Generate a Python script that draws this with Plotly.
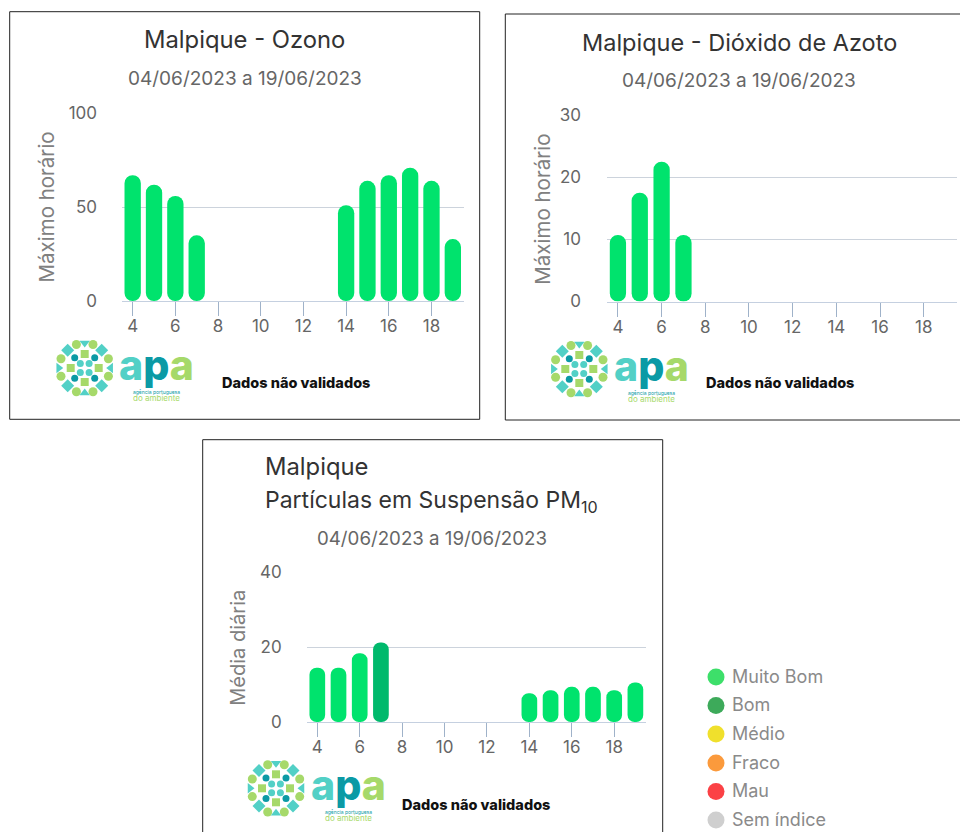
import plotly.graph_objects as go

W, H = 960, 832
FONT = "Inter"

# ---- data ----
ozone_days = [4, 5, 6, 7, 14, 15, 16, 17, 18, 19]
ozone_values = [67, 62, 56, 35, 51, 64, 67, 71, 64, 33]
no2_days = [4, 5, 6, 7]
no2_values = [10.7, 17.5, 22.5, 10.7]
pm10_days = [4, 5, 6, 7, 14, 15, 16, 17, 18, 19]
pm10_values = [14.5, 14.5, 18.4, 21.3, 7.7, 8.5, 9.4, 9.4, 8.5, 10.6]
x_ticks = [4, 6, 8, 10, 12, 14, 16, 18]
period = "04/06/2023 a 19/06/2023"
legend_labels = ["Muito Bom", "Bom", "Médio", "Fraco", "Mau", "Sem índice"]
legend_colors = ["#3ddf6a", "#3daa5a", "#f0e02c", "#fb9a3c", "#fb4145", "#cfcfcf"]

BRIGHT, DARK = "#00e36d", "#00b96c"
ozone_colors = [BRIGHT] * len(ozone_values)
no2_colors = [BRIGHT] * len(no2_values)
pm10_colors = [BRIGHT, BRIGHT, BRIGHT, DARK] + [BRIGHT] * 6
TICK = "#9fb2c9"

panels = [
    dict(days=ozone_days, values=ozone_values, colors=ozone_colors, ymax=100, dtick=50,
         l=122, r=463.5, t=113.3, b=301, width=0.765, ytitle="Máximo horário", ytx=46, yty=207.5, lab=98, ysz=20.5),
    dict(days=no2_days, values=no2_values, colors=no2_colors, ymax=30, dtick=10,
         l=607, r=956.5, t=115, b=301.5, width=0.745, ytitle="Máximo horário", ytx=541.7, yty=209, lab=582, ysz=20.5),
    dict(days=pm10_days, values=pm10_values, colors=pm10_colors, ymax=40, dtick=20,
         l=306.7, r=646, t=572.5, b=722, width=0.74, ytitle="Média diária", ytx=237.7, yty=648, lab=282, ysz=20),
]

fig = go.Figure()
annotations, shapes = [], []


def note(x, y, text, size, color, xanchor="center", weight=400, angle=0):
    annotations.append(dict(x=x / W, y=1 - y / H, xref="paper", yref="paper", text=text, showarrow=False,
                            xanchor=xanchor, yanchor="middle", textangle=angle,
                            font=dict(family=FONT, size=size, color=color, weight=weight)))


for i, p in enumerate(panels, start=1):
    sx = "" if i == 1 else str(i)
    # an explicit base makes Plotly round both ends of the bar
    fig.add_trace(go.Bar(x=p["days"], y=p["values"], base=[0] * len(p["values"]),
                         width=p["width"], marker=dict(color=p["colors"], cornerradius="50%", line_width=0),
                         xaxis="x" + sx, yaxis="y" + sx, showlegend=False, hoverinfo="skip"))
    fig.update_layout(**{
        "xaxis" + sx: dict(domain=[p["l"] / W, p["r"] / W], range=[3.5, 19.5], anchor="y" + sx, automargin=False,
                           tickmode="array", tickvals=x_ticks, ticks="outside", ticklen=14, tickcolor=TICK,
                           tickwidth=1, showline=True, linecolor="#c5d0e0", linewidth=1, showgrid=False,
                           zeroline=False, ticklabelstandoff=-4,
                           tickfont=dict(family=FONT, size=17, color="#666666")),
        "yaxis" + sx: dict(domain=[1 - p["b"] / H, 1 - p["t"] / H], range=[0, p["ymax"]], anchor="x" + sx,
                           automargin=False, dtick=p["dtick"], tick0=0, showgrid=True, gridcolor="#ccd3dc",
                           gridwidth=1, zeroline=False, showline=False, ticks="",
                           ticklabelstandoff=int(p["l"] - p["lab"]),
                           tickfont=dict(family=FONT, size=17, color="#666666")),
    })
    note(p["ytx"], p["yty"], p["ytitle"], p["ysz"], "#808080", angle=-90)

# ---- overlay axes in screen pixels, for the logos and the colour key ----
fig.update_layout(
    xaxis4=dict(domain=[0, 1], range=[0, W], visible=False, anchor="y4", automargin=False),
    yaxis4=dict(domain=[0, 1], range=[H, 0], visible=False, anchor="x4", automargin=False),
)

GREEN, TEAL, DEEP = "#a6d96a", "#52d0c6", "#0b9aa5"
logo_parts = [
    ("circle", 9, GREEN, [(-8.3, -23.5), (8.3, -23.5), (-23.7, -9.3), (23.7, -9.3),
                          (-23.7, 8.3), (23.7, 8.3), (-8.3, 23.7), (8.3, 23.7)]),
    ("triangle-down", 9, TEAL, [(0, -25)]),
    ("triangle-up", 9, TEAL, [(0, 25)]),
    ("triangle-right", 9, TEAL, [(-26, 0)]),
    ("triangle-left", 9, TEAL, [(26, 0)]),
    ("diamond", 10, TEAL, [(-17, -17.7), (17, -17.7), (-17, 17.7), (17, 17.7)]),
    ("square", 8, GREEN, [(0, -14), (-14, 0), (14, 0), (0, 14)]),
    ("circle", 7, DEEP, [(-10, -10.3), (10, -10.3), (-10, 10.3), (10, 10.3)]),
    ("circle", 7, TEAL, [(-4.4, -4.4), (4.4, -4.4), (-4.4, 4.4), (4.4, 4.4)]),
]
logo_centres = [(84.7, 368), (579.3, 369), (276, 788.3)]
apa_word = (f'<span style="color:{TEAL}">a</span><span style="color:{DEEP}">p</span>'
            f'<span style="color:{GREEN}">a</span>')
agency = (f'<span style="color:{DEEP}">agência portuguesa</span><br>'
          f'<span style="color:{GREEN};font-size:8px">do ambiente</span>')
for cx, cy in logo_centres:
    for sym, size, col, pts in logo_parts:
        fig.add_trace(go.Scatter(x=[cx + a for a, _ in pts], y=[cy + b for _, b in pts], mode="markers",
                                 marker=dict(symbol=sym, size=size, color=col, line_width=0),
                                 xaxis="x4", yaxis="y4", showlegend=False, hoverinfo="skip"))
    note(cx + 72, cy - 3, apa_word, 41, TEAL, weight=800)
    note(cx + 72, cy + 28, agency, 5, DEEP)

# ---- colour key ----
key_y = [677, 705.5, 734, 763, 791.5, 820]
fig.add_trace(go.Scatter(x=[716] * 6, y=key_y, mode="markers", xaxis="x4", yaxis="y4",
                         marker=dict(size=17, color=legend_colors, line_width=0),
                         showlegend=False, hoverinfo="skip"))
for y, label in zip(key_y, legend_labels):
    note(730.2, y - 1, label, 18, "#8a8a8a", xanchor="left")

# ---- titles and notes ----
note(244, 39.5, "Malpique - Ozono", 23.8, "#333333")
note(244.5, 78, period, 19, "#666666")
note(296, 382.5, "Dados não validados", 14.5, "#111111", weight=800)

note(739, 42, "Malpique - Dióxido de Azoto", 23.5, "#333333")
note(738.5, 80.7, period, 19, "#666666")
note(780, 382.7, "Dados não validados", 14.5, "#111111", weight=800)

note(263, 467, "Malpique", 23.8, "#333333", xanchor="left")
note(263, 501, "Partículas em Suspensão PM<sub>10</sub>", 23, "#333333", xanchor="left")
note(432, 538, period, 18.7, "#666666")
note(475.7, 804, "Dados não validados", 14.5, "#111111", weight=800)

# ---- panel frames ----
for x0, y0, x1, y1 in [(9.7, 11.7, 479.7, 419.3), (505.3, 14, 965, 420), (202.7, 439.7, 662.7, 840)]:
    shapes.append(dict(type="rect", xref="paper", yref="paper", x0=x0 / W, x1=x1 / W,
                       y0=1 - y0 / H, y1=1 - y1 / H, line=dict(color="#222222", width=1), layer="below"))

fig.update_layout(width=W, height=H, margin=dict(l=0, r=0, t=0, b=0, pad=0), autosize=False,
                  paper_bgcolor="white", plot_bgcolor="rgba(0,0,0,0)", barmode="overlay",
                  showlegend=False, annotations=annotations, shapes=shapes,
                  font=dict(family=FONT))

fig.write_html("out.html", config={"displayModeBar": False},
               post_script="document.body.style.margin='0';document.body.style.overflow='hidden';")
